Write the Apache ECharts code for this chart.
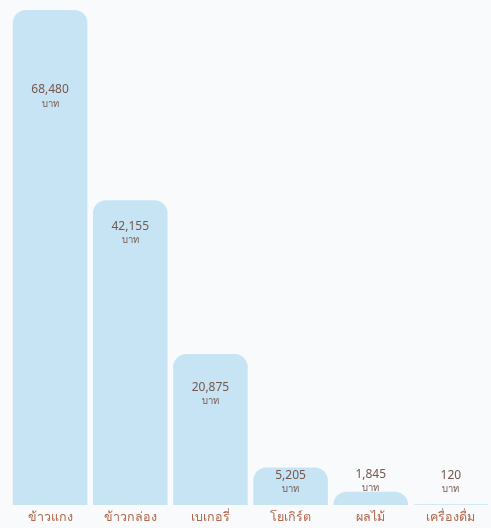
<!DOCTYPE html>
<html><head><meta charset="utf-8">
<script src="https://cdn.jsdelivr.net/npm/echarts@6/dist/echarts.min.js"></script>
<style>html,body{margin:0;padding:0;background:#f8fafc;}#c{width:491px;height:528px;}</style>
</head><body><div id="c"></div>
<script>
var categories = ['ข้าวแกง', 'ข้าวกล่อง', 'เบเกอรี่', 'โยเกิร์ต', 'ผลไม้', 'เครื่องดื่ม'];
var values = [68480, 42155, 20875, 5205, 1845, 120];
var unitLabel = 'บาท';

var chart = echarts.init(document.getElementById('c'));
// label y offsets (style only): distance from bar top to label
var labelDy = [72, 18, 25, 0, -25, -37];
var data = values.map(function (v, i) {
  return {
    value: v,
    label: { position: ['50%', labelDy[i]] }
  };
});
chart.setOption({
  backgroundColor: '#f8fafc',
  animation: false,
  grid: { left: 10, right: 0, top: 10, bottom: 23, containLabel: false },
  xAxis: {
    type: 'category', data: categories,
    axisLine: { show: false }, axisTick: { show: false },
    axisLabel: { color: '#b0674a', fontSize: 12.5, margin: 6, fontFamily: 'Noto Sans, sans-serif' }
  },
  yAxis: { type: 'value', min: 0, max: 68480, show: false, splitLine: { show: false } },
  series: [{
    type: 'bar', data: data, barCategoryGap: '7%',
    itemStyle: { color: '#c7e4f4', borderRadius: [13, 13, 0, 0] },
    label: {
      show: true, align: 'center', verticalAlign: 'top',
      formatter: function (p) { return '{v|' + p.value.toLocaleString('en-US') + '}\n{u|' + unitLabel + '}'; },
      rich: {
        v: { color: '#76574d', fontSize: 12, fontWeight: 'normal', lineHeight: 16, fontFamily: 'Noto Sans, sans-serif', align: 'center' },
        u: { color: '#76574d', fontSize: 9.5, lineHeight: 12, fontFamily: 'Noto Sans, sans-serif', align: 'center' }
      }
    }
  }]
});
</script></body></html>
